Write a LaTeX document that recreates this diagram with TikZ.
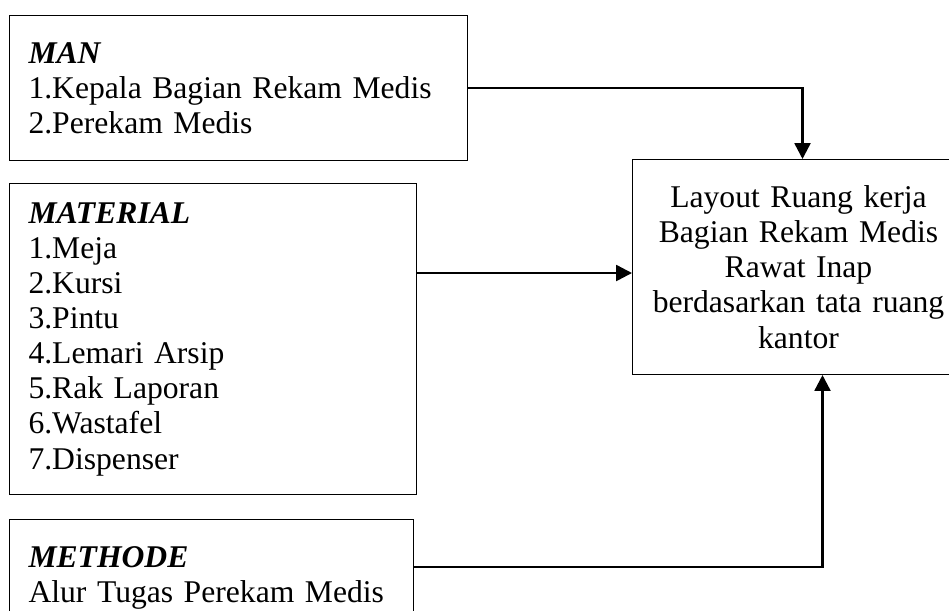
\documentclass[tikz,border=0pt]{standalone}
\usepackage{fontspec}
\setmainfont{Liberation Serif}
\usetikzlibrary{positioning}
\usetikzlibrary{arrows.meta}
\usetikzlibrary{calc}

\begin{document}
\begin{tikzpicture}[x=0.02cm, y=-0.02cm,
      every node/.style = {font=\fontsize{18}{20}\selectfont},
      inbox/.style = {draw, line width=0.6pt, anchor=north west,
        align=left, inner xsep=0.38cm},
      outbox/.style = {draw, line width=0.6pt, anchor=north west,
        align=center, inner xsep=0.2cm, text width=6.24cm,
        minimum height=4.3cm},
      flow/.style = {line width=1.4pt, -{Triangle[length=9pt,width=9pt]}}
    ]
    \useasboundingbox (0,0) rectangle (949,610);
    \clip (0,0) rectangle (949,610);
    \node (man) [inbox, text width=8.4cm, minimum height=2.9cm] at (9,15)
      {\textbf{\textit{MAN}}\\1.Kepala Bagian Rekam Medis\\2.Perekam Medis};
    \node (material) [inbox, text width=7.38cm, minimum height=6.22cm] at (9,183)
      {\textbf{\textit{MATERIAL}}\\1.Meja\\2.Kursi\\3.Pintu\\4.Lemari Arsip\\5.Rak Laporan\\6.Wastafel\\7.Dispenser};
    \node (methode) [inbox, text width=7.32cm, minimum height=2.32cm] at (9,519)
      {\textbf{\textit{METHODE}}\\Alur Tugas Perekam Medis};
    \node (layout) [outbox] at (632,159)
      {Layout Ruang kerja\\Bagian Rekam Medis\\Rawat Inap\\berdasarkan tata ruang\\kantor};
    \coordinate (midrow) at (0,273);
    \coordinate (lowrow) at (0,567);
    \draw [flow] (man.east) -| ($(layout.north)+(4,0)$);
    \draw [flow] (material.east |- midrow) -- (layout.west |- midrow);
    \draw [flow] (methode.east |- lowrow) -| ($(layout.south)+(24,0)$);
\end{tikzpicture}
\end{document}
